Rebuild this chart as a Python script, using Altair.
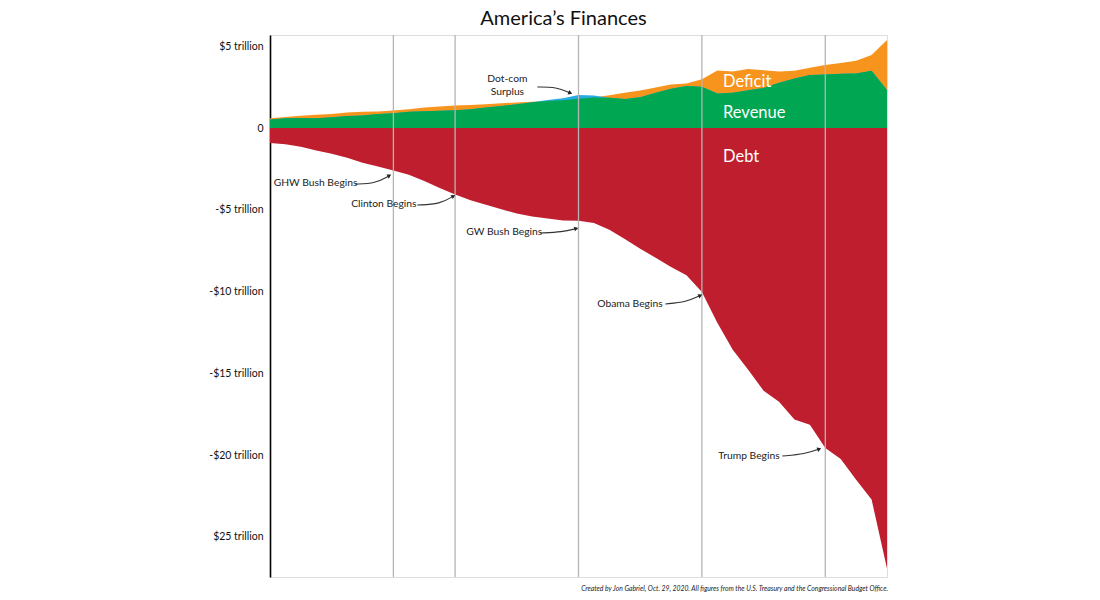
import altair as alt
import pandas as pd

# ---------------- data (trillions of dollars, fiscal years) ----------------
years = list(range(1980, 2021))
revenue = [0.517, 0.599, 0.618, 0.601, 0.666, 0.734, 0.769, 0.854, 0.909, 0.991,
           1.032, 1.055, 1.091, 1.154, 1.259, 1.352, 1.453, 1.579, 1.722, 1.827,
           2.025, 1.991, 1.853, 1.782, 1.880, 2.154, 2.407, 2.568, 2.524, 2.105,
           2.163, 2.304, 2.450, 2.775, 3.022, 3.250, 3.268, 3.316, 3.329, 3.500, 2.320]
outlays = [0.591, 0.678, 0.746, 0.808, 0.852, 0.946, 0.990, 1.004, 1.065, 1.144,
           1.253, 1.324, 1.382, 1.409, 1.462, 1.516, 1.561, 1.601, 1.652, 1.702,
           1.789, 1.863, 2.011, 2.160, 2.293, 2.472, 2.655, 2.729, 2.983, 3.518,
           3.457, 3.603, 3.537, 3.455, 3.506, 3.692, 3.853, 3.982, 4.109, 4.470, 5.380]
debt = [0.908, 0.998, 1.142, 1.377, 1.572, 1.823, 2.125, 2.350, 2.602, 2.857,
        3.233, 3.665, 4.065, 4.411, 4.693, 4.974, 5.225, 5.413, 5.526, 5.656,
        5.674, 5.807, 6.228, 6.783, 7.379, 7.933, 8.507, 9.008, 10.025, 11.910,
        13.562, 14.790, 16.066, 16.738, 17.824, 18.151, 19.573, 20.245, 21.516, 22.719, 26.945]

# presidencies begin after these fiscal years
term_years = [1988, 1992, 2000, 2008, 2016]

tick_values = [5, 0, -5, -10, -15, -20, -25]
tick_labels = ["$5 trillion", "0", "-$5 trillion", "-$10 trillion",
               "-$15 trillion", "-$20 trillion", "$25 trillion"]

# series labels
series_names = ["Deficit", "Revenue", "Debt"]
series_x = [2009.37, 2009.37, 2009.37]
series_y = [2.80, 0.90, -1.77]

# annotations: text, text anchor (left) and arrow path (start, bend, tip)
ann_text = ["GHW Bush Begins", "Clinton Begins", "GW Bush Begins", "Obama Begins", "Trump Begins"]
ann_x = [1980.24, 1985.26, 1992.73, 2001.22, 2009.06]
ann_y = [-3.35, -4.67, -6.38, -10.76, -20.06]

arrow_paths = [
    [(1985.53, -3.43), (1986.83, -3.39), (1987.74, -2.91)],
    [(1989.55, -4.71), (1991.04, -4.65), (1991.89, -4.16)],
    [(1997.53, -6.42), (1998.95, -6.36), (1999.86, -6.15)],
    [(2005.63, -10.76), (2006.99, -10.64), (2007.90, -10.24)],
    [(2013.21, -20.06), (2014.70, -19.94), (2015.61, -19.63)],
    [(1997.33, 2.51), (1998.56, 2.51), (1999.47, 2.14)],
]
arrow_angles = [330, 328, 346, 335, 340, 23]

dotcom_lines = ["Dot-com", "Surplus"]
dotcom_x = 1995.39
dotcom_y = [3.02, 2.22]

caption = ("Created by Jon Gabriel, Oct. 29, 2020. All figures from the "
           "U.S. Treasury and the Congressional Budget Office.")

# ---------------- tables ----------------
df = pd.DataFrame({"year": years, "revenue": revenue, "outlays": outlays, "debt": debt})
df["base"] = df[["revenue", "outlays"]].min(axis=1)
df["neg_debt"] = -df["debt"]

rules_df = pd.DataFrame({"year": term_years})
series_df = pd.DataFrame({"name": series_names, "x": series_x, "y": series_y})
ann_df = pd.DataFrame({"text": ann_text, "x": ann_x, "y": ann_y})
dot_df = pd.DataFrame({"text": dotcom_lines, "x": [dotcom_x] * 2, "y": dotcom_y})

rows = []
heads = []
for i, path in enumerate(arrow_paths):
    for j, (px, py) in enumerate(path):
        rows.append({"id": i, "order": j, "x": px, "y": py})
    heads.append({"id": i, "x": path[-1][0], "y": path[-1][1], "angle": arrow_angles[i]})
arrow_df = pd.DataFrame(rows)
head_df = pd.DataFrame(heads)

FONT = "Lato"
W, H = 617, 542

xs = alt.Scale(domain=[1980, 2020], nice=False, zero=False)
ys = alt.Scale(domain=[-27.46, 5.69], nice=False, zero=False)

label_expr = " : ".join(
    f"datum.value == {v} ? '{t}'" for v, t in zip(tick_values, tick_labels)
) + " : ''"

X = alt.X("year:Q", scale=xs, axis=None)

base = alt.Chart(df)

orange = base.mark_area(color="#F7941D").encode(
    x=X,
    y=alt.Y("outlays:Q", scale=ys,
            axis=alt.Axis(values=tick_values, labelExpr=label_expr, ticks=False, grid=False,
                          domainColor="#000000", domainWidth=1.6, labelFont=FONT,
                          labelFontSize=10.5, labelColor="#111111", labelPadding=7, title=None)),
    y2=alt.datum(0),
)
blue = base.mark_area(color="#29ABE2").encode(x=X, y=alt.Y("revenue:Q", scale=ys), y2=alt.datum(0))
green = base.mark_area(color="#00A651").encode(x=X, y=alt.Y("base:Q", scale=ys), y2=alt.datum(0))
red = base.mark_area(color="#BE1E2D").encode(x=X, y=alt.Y("neg_debt:Q", scale=ys), y2=alt.datum(0))

rules = alt.Chart(rules_df).mark_rule(color="#b5b5b5", strokeWidth=1.3).encode(
    x=alt.X("year:Q", scale=xs, axis=None)
)

series_txt = alt.Chart(series_df).mark_text(
    font=FONT, fontSize=16.5, color="white", align="left", baseline="middle"
).encode(x=alt.X("x:Q", scale=xs), y=alt.Y("y:Q", scale=ys), text="name:N")

ann_txt = alt.Chart(ann_df).mark_text(
    font=FONT, fontSize=10.3, color="#222222", align="left", baseline="middle"
).encode(x=alt.X("x:Q", scale=xs), y=alt.Y("y:Q", scale=ys), text="text:N")

dot_txt = alt.Chart(dot_df).mark_text(
    font=FONT, fontSize=10.3, color="#222222", align="center", baseline="middle"
).encode(x=alt.X("x:Q", scale=xs), y=alt.Y("y:Q", scale=ys), text="text:N")

arrows = alt.Chart(arrow_df).mark_line(
    interpolate="basis", color="#333333", strokeWidth=1.1
).encode(x=alt.X("x:Q", scale=xs), y=alt.Y("y:Q", scale=ys), detail="id:N", order="order:Q")

arrow_heads = alt.Chart(head_df).mark_point(
    shape="triangle-right", filled=True, color="#222222", size=22, opacity=1
).encode(x=alt.X("x:Q", scale=xs), y=alt.Y("y:Q", scale=ys), angle=alt.Angle("angle:Q", scale=None))

cap = alt.Chart(pd.DataFrame({"t": [caption]})).mark_text(
    font=FONT, fontStyle="italic", fontSize=6.8, color="#222222",
    align="right", baseline="middle"
).encode(x=alt.value(W + 1), y=alt.value(H + 12), text="t:N")

chart = alt.layer(
    orange, blue, green, red, rules, series_txt, ann_txt, dot_txt, arrows, arrow_heads, cap
).properties(
    width=W, height=H,
    title=alt.Title("America’s Finances", font=FONT, fontSize=20, fontWeight="normal",
                    color="#111111", anchor="middle", offset=5, dx=-15),
    autosize=alt.AutoSizeParams(type="none"),
    padding={"left": 270, "top": 35, "right": 213, "bottom": 23},
).configure_view(stroke=None).configure(background="white")

chart.save("out.html", embed_options={"renderer": "svg", "actions": False})
